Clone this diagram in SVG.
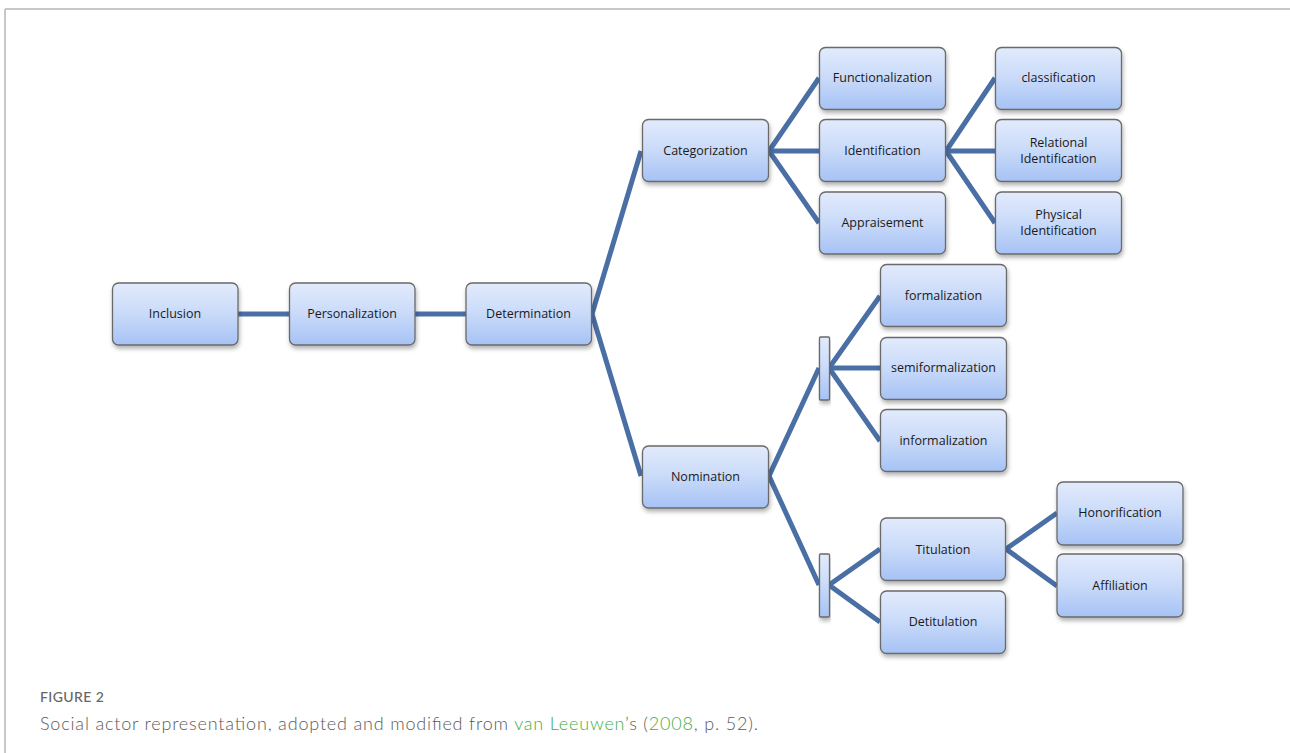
<svg xmlns="http://www.w3.org/2000/svg" width="1290" height="753" viewBox="0 0 1290 753">
<defs>
<linearGradient id="g" x1="0" y1="0" x2="0" y2="1">
<stop offset="0" stop-color="#e2ebfc"/>
<stop offset="0.5" stop-color="#c9daf9"/>
<stop offset="1" stop-color="#a6c2f5"/>
</linearGradient>
<filter id="sh" x="-10%" y="-10%" width="125%" height="135%">
<feDropShadow dx="1" dy="3" stdDeviation="2" flood-color="#000" flood-opacity="0.3"/>
</filter>
<style>
.b{fill:url(#g);stroke:#6a6a6a;stroke-width:1.3;filter:url(#sh)}
.t{font-family:"Open Sans","Liberation Sans",sans-serif;font-size:12.5px;fill:#1a1a1a;text-anchor:middle}
.c{stroke:#4a6fa5;stroke-width:5;fill:none;stroke-linecap:butt}
.cap{font-family:Lato,"Open Sans",sans-serif}
</style>
</defs>
<rect x="0" y="0" width="1290" height="753" fill="#fff"/>
<line x1="5" y1="9" x2="1290" y2="9" stroke="#c8c8c8" stroke-width="2"/>
<line x1="5" y1="9" x2="5" y2="753" stroke="#c8c8c8" stroke-width="2"/>

<g id="connectors">
<line class="c" x1="238" y1="314" x2="289" y2="314"/>
<line class="c" x1="415" y1="314" x2="466" y2="314"/>
<polyline class="c" points="641,151 592,314 641,476"/>
<polyline class="c" points="819,78 769,151 819,223"/>
<line class="c" x1="769" y1="151" x2="819" y2="151"/>
<polyline class="c" points="995,78 946,151 995,223"/>
<line class="c" x1="946" y1="151" x2="995" y2="151"/>
<polyline class="c" points="819,368 769,476 819,585"/>
<polyline class="c" points="880,296 829,368 880,441"/>
<line class="c" x1="829" y1="368" x2="880" y2="368"/>
<polyline class="c" points="880,549 829,585 880,622"/>
<polyline class="c" points="1057,513 1006,549 1057,586"/>
</g>

<g id="inclusion"><rect class="b" x="112.5" y="283" width="125.5" height="62" rx="6"/><text class="t" x="175" y="318">Inclusion</text></g>
<g id="personalization"><rect class="b" x="289.5" y="283" width="125.5" height="62" rx="6"/><text class="t" x="352" y="318">Personalization</text></g>
<g id="determination"><rect class="b" x="466" y="283" width="125.5" height="62" rx="6"/><text class="t" x="528.5" y="318">Determination</text></g>

<g id="categorization"><rect class="b" x="642.5" y="119.5" width="126" height="62" rx="6"/><text class="t" x="705.5" y="155">Categorization</text></g>
<g id="functionalization"><rect class="b" x="819.5" y="47.5" width="126" height="62" rx="6"/><text class="t" x="882.5" y="82">Functionalization</text></g>
<g id="identification"><rect class="b" x="819.5" y="119.5" width="126" height="62" rx="6"/><text class="t" x="882.5" y="155">Identification</text></g>
<g id="appraisement"><rect class="b" x="819.5" y="192" width="126" height="62" rx="6"/><text class="t" x="882.5" y="227">Appraisement</text></g>
<g id="classification"><rect class="b" x="995.5" y="47.5" width="126" height="62" rx="6"/><text class="t" x="1058.5" y="82">classification</text></g>
<g id="relational"><rect class="b" x="995.5" y="119.5" width="126" height="62" rx="6"/><text class="t" x="1058.5" y="147">Relational</text><text class="t" x="1058.5" y="163">Identification</text></g>
<g id="physical"><rect class="b" x="995.5" y="192" width="126" height="62" rx="6"/><text class="t" x="1058.5" y="219">Physical</text><text class="t" x="1058.5" y="235">Identification</text></g>

<g id="nomination"><rect class="b" x="642.5" y="446" width="126" height="62" rx="6"/><text class="t" x="705.5" y="481">Nomination</text></g>
<g id="bar1"><rect class="b" x="819.5" y="337" width="10" height="63" rx="1"/></g>
<g id="formalization"><rect class="b" x="880.5" y="264.5" width="126" height="62" rx="6"/><text class="t" x="943.5" y="300">formalization</text></g>
<g id="semiformalization"><rect class="b" x="880.5" y="337.5" width="126" height="62" rx="6"/><text class="t" x="943.5" y="372">semiformalization</text></g>
<g id="informalization"><rect class="b" x="880.5" y="409.5" width="126" height="62" rx="6"/><text class="t" x="943.5" y="445">informalization</text></g>
<g id="bar2"><rect class="b" x="819.5" y="554" width="10" height="63" rx="1"/></g>
<g id="titulation"><rect class="b" x="880.5" y="518" width="125" height="62.5" rx="6"/><text class="t" x="943" y="554">Titulation</text></g>
<g id="detitulation"><rect class="b" x="880.5" y="591" width="125" height="62.5" rx="6"/><text class="t" x="943" y="626">Detitulation</text></g>
<g id="honorification"><rect class="b" x="1057" y="482" width="126" height="63" rx="6"/><text class="t" x="1120" y="517">Honorification</text></g>
<g id="affiliation"><rect class="b" x="1057" y="554" width="126" height="63" rx="6"/><text class="t" x="1120" y="590">Affiliation</text></g>

<g id="caption">
<text class="cap" x="40" y="702" font-size="14" fill="#666" letter-spacing="0.4" font-weight="500">FIGURE 2</text>
<text class="cap" x="40" y="730" font-size="18" fill="#5a5a5a" font-weight="300" textLength="718" lengthAdjust="spacing">Social actor representation, adopted and modified from <tspan fill="#3fae49">van Leeuwen</tspan>’s (<tspan fill="#3fae49">2008</tspan>, p. 52).</text>
</g>
</svg>
